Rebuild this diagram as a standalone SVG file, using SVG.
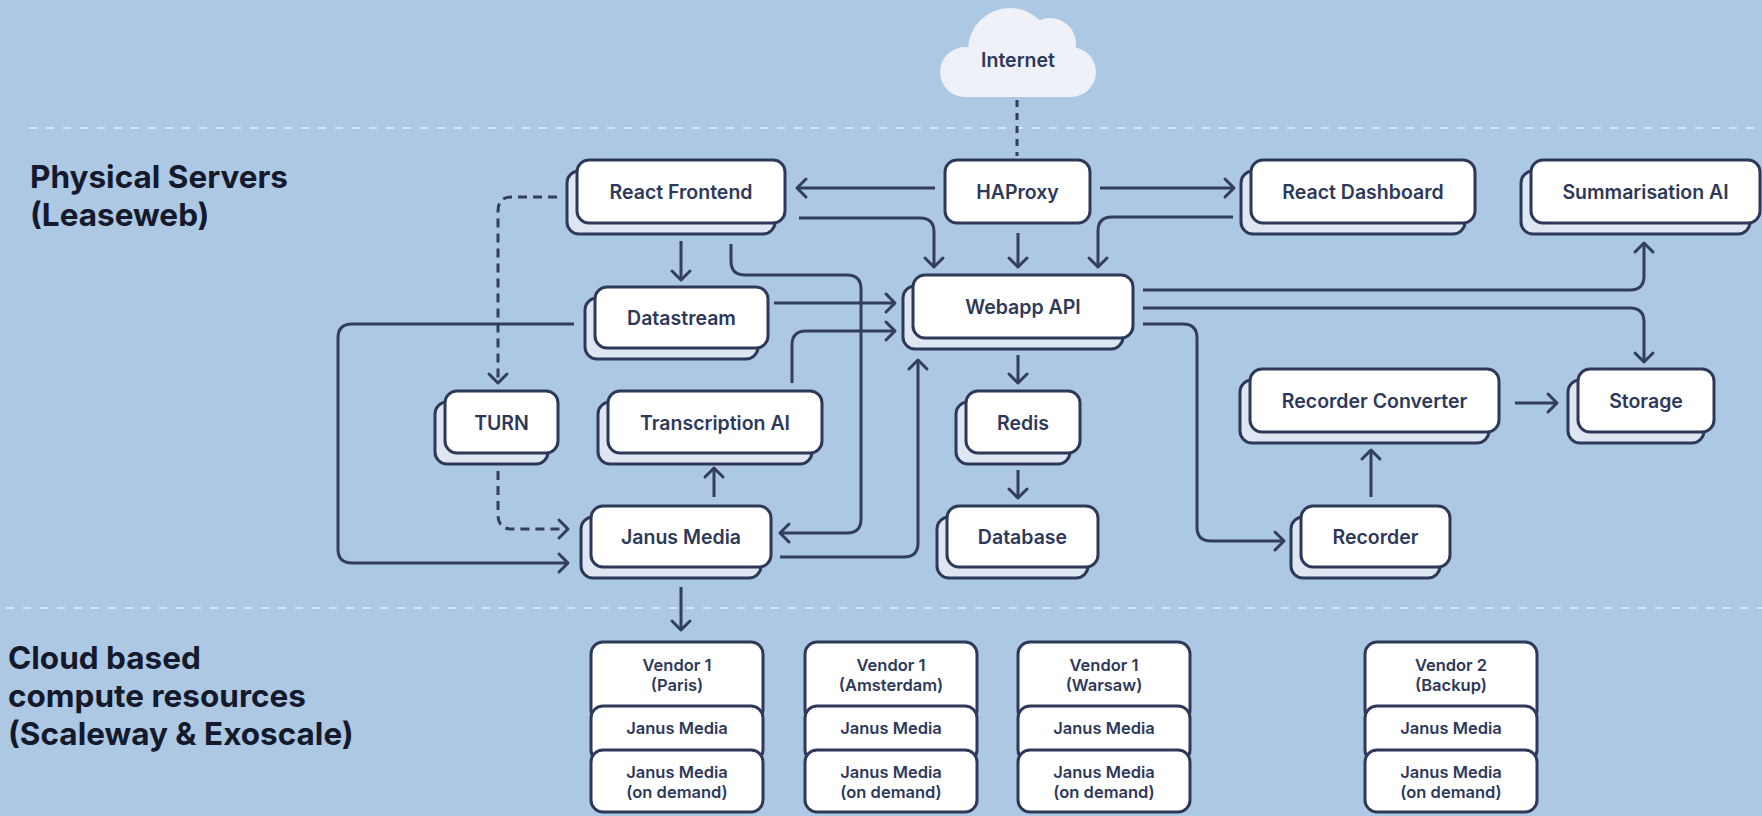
<svg xmlns="http://www.w3.org/2000/svg" width="1762" height="816" viewBox="0 0 1762 816">
<defs>
<style>
.front{fill:#ffffff;stroke:#2e395a;stroke-width:3}
.back{fill:#dde6f1;stroke:#2e395a;stroke-width:3}
.lbl{font-family:Inter,"Liberation Sans",sans-serif;font-weight:600;font-size:19.5px;fill:#2e395a;text-anchor:middle}
.vl{font-family:Inter,"Liberation Sans",sans-serif;font-weight:600;font-size:16.5px;fill:#2e395a;text-anchor:middle}
.sec{font-family:Inter,"Liberation Sans",sans-serif;font-weight:700;font-size:31.5px;fill:#141a2b}
.conn{fill:none;stroke:#333e5f;stroke-width:3}
.dash{stroke-dasharray:9 6}
.sep{fill:none;stroke:#e8eef6;stroke-width:1.6;stroke-dasharray:8 9}
</style>
<marker id="ah" viewBox="-12 -12 24 24" refX="0" refY="0" markerWidth="24" markerHeight="24" markerUnits="userSpaceOnUse" orient="auto">
<path d="M-9,-9 L0,0 L-9,9" fill="none" stroke="#333e5f" stroke-width="3" stroke-linecap="round" stroke-linejoin="round"/>
</marker>
</defs>
<rect x="0" y="0" width="1762" height="816" fill="#adc8e3"/>

<!-- separators and section labels -->
<line class="sep" x1="29" y1="128" x2="1762" y2="128"/>
<line class="sep" x1="6" y1="608" x2="1762" y2="608"/>
<text class="sec" x="30" y="188">Physical Servers</text>
<text class="sec" x="30" y="226">(Leaseweb)</text>
<text class="sec" x="8" y="669">Cloud based</text>
<text class="sec" x="8" y="707">compute resources</text>
<text class="sec" x="8" y="745">(Scaleway &amp; Exoscale)</text>

<!-- Internet cloud -->
<g id="internet">
<g fill="#eef2f8">
<circle cx="965" cy="72" r="25"/>
<circle cx="1071" cy="72" r="25"/>
<rect x="965" y="55" width="106" height="42"/>
<circle cx="1010" cy="50" r="42"/>
<circle cx="1050" cy="44" r="26"/>
</g>
<text class="lbl" x="1018" y="67">Internet</text>
</g>

<!-- connectors -->
<g id="connectors">
<path class="conn" d="M1017,100 L1017,156" stroke-dasharray="7 6"/>
<path class="conn" d="M935,188 L797,188" marker-end="url(#ah)"/>
<path class="conn" d="M1100,188 L1234,188" marker-end="url(#ah)"/>
<path class="conn" d="M1018,233 L1018,267" marker-end="url(#ah)"/>
<path class="conn" d="M799,218 L920,218 Q934,218 934,232 L934,267" marker-end="url(#ah)"/>
<path class="conn" d="M1233,217 L1112,217 Q1098,217 1098,231 L1098,267" marker-end="url(#ah)"/>
<path class="conn" d="M681,241 L681,280" marker-end="url(#ah)"/>
<path class="conn" d="M731,244 L731,261 Q731,275 745,275 L847,275 Q861,275 861,289 L861,519 Q861,533 847,533 L780,533" marker-end="url(#ah)"/>
<path class="conn dash" d="M557,197 L512,197 Q498,197 498,211 L498,383" marker-end="url(#ah)"/>
<path class="conn dash" d="M498,471 L498,515 Q498,529 512,529 L568,529" marker-end="url(#ah)"/>
<path class="conn" d="M774,303 L895,303" marker-end="url(#ah)"/>
<path class="conn" d="M792,383 L792,345 Q792,331 806,331 L895,331" marker-end="url(#ah)"/>
<path class="conn" d="M574,324 L352,324 Q338,324 338,338 L338,549 Q338,563 352,563 L568,563" marker-end="url(#ah)"/>
<path class="conn" d="M714,497 L714,468" marker-end="url(#ah)"/>
<path class="conn" d="M780,557 L904,557 Q918,557 918,543 L918,360" marker-end="url(#ah)"/>
<path class="conn" d="M1018,355 L1018,383" marker-end="url(#ah)"/>
<path class="conn" d="M1018,470 L1018,498" marker-end="url(#ah)"/>
<path class="conn" d="M1143,290 L1630,290 Q1644,290 1644,276 L1644,243" marker-end="url(#ah)"/>
<path class="conn" d="M1143,308 L1630,308 Q1644,308 1644,322 L1644,362" marker-end="url(#ah)"/>
<path class="conn" d="M1143,324 L1183,324 Q1197,324 1197,338 L1197,527 Q1197,541 1211,541 L1284,541" marker-end="url(#ah)"/>
<path class="conn" d="M1371,497 L1371,450" marker-end="url(#ah)"/>
<path class="conn" d="M1515,403 L1557,403" marker-end="url(#ah)"/>
<path class="conn" d="M681,587 L681,630" marker-end="url(#ah)"/>
</g>

<!-- nodes -->
<g id="react-frontend">
<rect class="back" x="567" y="171" width="208" height="63" rx="12"/>
<rect class="front" x="577" y="160" width="208" height="63" rx="12"/>
<text class="lbl" x="681" y="198.5">React Frontend</text>
</g>
<g id="haproxy">
<rect class="front" x="945" y="160" width="145" height="63" rx="12"/>
<text class="lbl" x="1017.5" y="198.5">HAProxy</text>
</g>
<g id="react-dashboard">
<rect class="back" x="1241" y="171" width="224" height="63" rx="12"/>
<rect class="front" x="1251" y="160" width="224" height="63" rx="12"/>
<text class="lbl" x="1363" y="198.5">React Dashboard</text>
</g>
<g id="summarisation-ai">
<rect class="back" x="1521" y="171" width="229" height="63" rx="12"/>
<rect class="front" x="1531" y="160" width="229" height="63" rx="12"/>
<text class="lbl" x="1645.5" y="198.5">Summarisation AI</text>
</g>
<g id="datastream">
<rect class="back" x="585" y="298" width="173" height="61" rx="12"/>
<rect class="front" x="595" y="287" width="173" height="61" rx="12"/>
<text class="lbl" x="681.5" y="324.5">Datastream</text>
</g>
<g id="webapp-api">
<rect class="back" x="903" y="286" width="220" height="63" rx="12"/>
<rect class="front" x="913" y="275" width="220" height="63" rx="12"/>
<text class="lbl" x="1023" y="313.5">Webapp API</text>
</g>
<g id="turn">
<rect class="back" x="435" y="402" width="113" height="62" rx="12"/>
<rect class="front" x="445" y="391" width="113" height="62" rx="12"/>
<text class="lbl" x="501.5" y="429.5">TURN</text>
</g>
<g id="transcription-ai">
<rect class="back" x="598" y="402" width="214" height="62" rx="12"/>
<rect class="front" x="608" y="391" width="214" height="62" rx="12"/>
<text class="lbl" x="715" y="429.5">Transcription AI</text>
</g>
<g id="redis">
<rect class="back" x="956" y="402" width="114" height="62" rx="12"/>
<rect class="front" x="966" y="391" width="114" height="62" rx="12"/>
<text class="lbl" x="1023" y="429.5">Redis</text>
</g>
<g id="recorder-converter">
<rect class="back" x="1240" y="380" width="249" height="63" rx="12"/>
<rect class="front" x="1250" y="369" width="249" height="63" rx="12"/>
<text class="lbl" x="1374.5" y="407.5">Recorder Converter</text>
</g>
<g id="storage">
<rect class="back" x="1568" y="380" width="136" height="63" rx="12"/>
<rect class="front" x="1578" y="369" width="136" height="63" rx="12"/>
<text class="lbl" x="1646" y="407.5">Storage</text>
</g>
<g id="janus-media">
<rect class="back" x="581" y="517" width="180" height="61" rx="12"/>
<rect class="front" x="591" y="506" width="180" height="61" rx="12"/>
<text class="lbl" x="681" y="543.5">Janus Media</text>
</g>
<g id="database">
<rect class="back" x="937" y="517" width="151" height="61" rx="12"/>
<rect class="front" x="947" y="506" width="151" height="61" rx="12"/>
<text class="lbl" x="1022.5" y="543.5">Database</text>
</g>
<g id="recorder">
<rect class="back" x="1291" y="517" width="149" height="61" rx="12"/>
<rect class="front" x="1301" y="506" width="149" height="61" rx="12"/>
<text class="lbl" x="1375.5" y="543.5">Recorder</text>
</g>

<!-- vendors -->
<g id="vendor-paris">
<rect class="front" x="591" y="642" width="172" height="80" rx="12"/>
<rect class="front" x="591" y="706" width="172" height="56" rx="12"/>
<rect class="front" x="591" y="750" width="172" height="62" rx="12"/>
<text class="vl" x="677" y="671">Vendor 1</text>
<text class="vl" x="677" y="691">(Paris)</text>
<text class="vl" x="677" y="734">Janus Media</text>
<text class="vl" x="677" y="778">Janus Media</text>
<text class="vl" x="677" y="798">(on demand)</text>
</g>
<g id="vendor-amsterdam">
<rect class="front" x="805" y="642" width="172" height="80" rx="12"/>
<rect class="front" x="805" y="706" width="172" height="56" rx="12"/>
<rect class="front" x="805" y="750" width="172" height="62" rx="12"/>
<text class="vl" x="891" y="671">Vendor 1</text>
<text class="vl" x="891" y="691">(Amsterdam)</text>
<text class="vl" x="891" y="734">Janus Media</text>
<text class="vl" x="891" y="778">Janus Media</text>
<text class="vl" x="891" y="798">(on demand)</text>
</g>
<g id="vendor-warsaw">
<rect class="front" x="1018" y="642" width="172" height="80" rx="12"/>
<rect class="front" x="1018" y="706" width="172" height="56" rx="12"/>
<rect class="front" x="1018" y="750" width="172" height="62" rx="12"/>
<text class="vl" x="1104" y="671">Vendor 1</text>
<text class="vl" x="1104" y="691">(Warsaw)</text>
<text class="vl" x="1104" y="734">Janus Media</text>
<text class="vl" x="1104" y="778">Janus Media</text>
<text class="vl" x="1104" y="798">(on demand)</text>
</g>
<g id="vendor-backup">
<rect class="front" x="1365" y="642" width="172" height="80" rx="12"/>
<rect class="front" x="1365" y="706" width="172" height="56" rx="12"/>
<rect class="front" x="1365" y="750" width="172" height="62" rx="12"/>
<text class="vl" x="1451" y="671">Vendor 2</text>
<text class="vl" x="1451" y="691">(Backup)</text>
<text class="vl" x="1451" y="734">Janus Media</text>
<text class="vl" x="1451" y="778">Janus Media</text>
<text class="vl" x="1451" y="798">(on demand)</text>
</g>
</svg>
